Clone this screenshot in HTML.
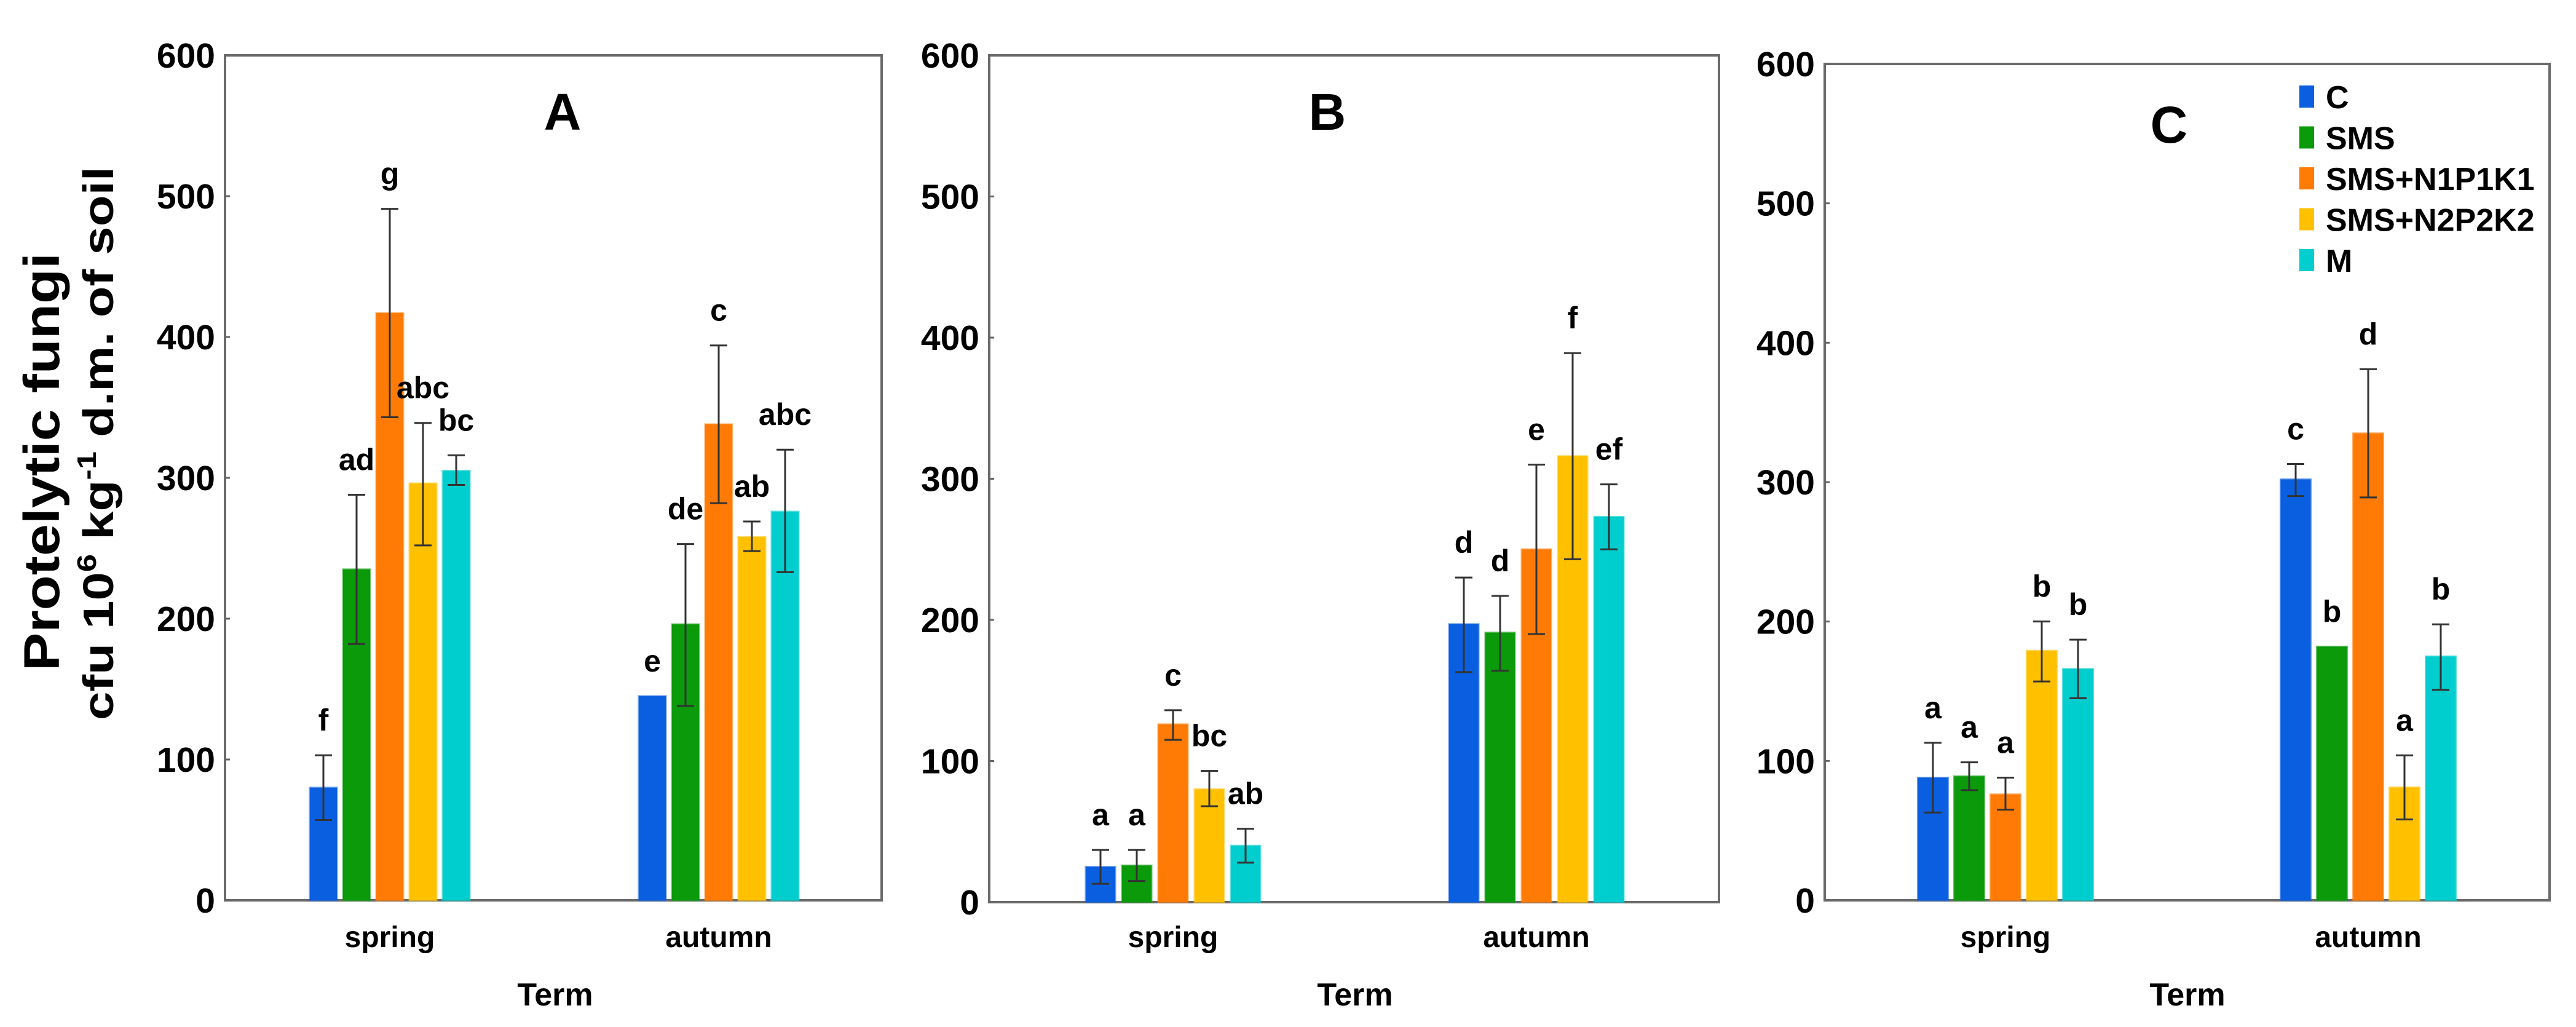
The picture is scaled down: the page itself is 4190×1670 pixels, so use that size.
<!DOCTYPE html>
<html><head><meta charset="utf-8">
<style>
html,body{margin:0;padding:0;background:#fff;}
svg{display:block;font-family:"Liberation Sans",Arial,sans-serif;font-weight:bold;}
</style></head>
<body>
<svg id="chart" width="4190" height="1670" viewBox="0 0 4190 1670" xmlns="http://www.w3.org/2000/svg">
<g>
<text x="96" y="751" transform="rotate(-90 96 751)" text-anchor="middle" font-size="82" textLength="680" lengthAdjust="spacingAndGlyphs">Protelytic fungi</text>
<text x="184" y="721" transform="rotate(-90 184 721)" text-anchor="middle" font-size="70" textLength="900" lengthAdjust="spacingAndGlyphs">cfu 10<tspan dy="-28" font-size="44">6</tspan><tspan dy="28"> kg</tspan><tspan dy="-28" font-size="44">-1</tspan><tspan dy="28"> d.m. of soil</tspan></text>
</g>
</svg>
<script>
const categories = ["spring", "autumn"];
const seriesNames = ["C", "SMS", "SMS+N1P1K1", "SMS+N2P2K2", "M"];
const tickValues = [0, 100, 200, 300, 400, 500, 600];
const panelTitles = ["A", "B", "C"];
const valuesA = [[80, 235, 417, 296, 305], [145, 196, 338, 258, 276]];
const errLowA = [[57, 182, 343, 252, 295], [145, 138, 282, 248, 233]];
const errHighA = [[103, 288, 491, 339, 316], [145, 253, 394, 269, 320]];
const lettersA = [["f", "ad", "g", "abc", "bc"], ["e", "de", "c", "ab", "abc"]];
const valuesB = [[25, 26, 126, 80, 40], [197, 191, 250, 316, 273]];
const errLowB = [[13, 15, 115, 68, 28], [163, 164, 190, 243, 250]];
const errHighB = [[37, 37, 136, 93, 52], [230, 217, 310, 389, 296]];
const lettersB = [["a", "a", "c", "bc", "ab"], ["d", "d", "e", "f", "ef"]];
const valuesC = [[88, 89, 76, 179, 166], [302, 182, 335, 81, 175]];
const errLowC = [[63, 79, 65, 157, 145], [290, 182, 289, 58, 151]];
const errHighC = [[113, 99, 88, 200, 187], [313, 182, 381, 104, 198]];
const lettersC = [["a", "a", "a", "b", "b"], ["c", "b", "d", "a", "b"]];

const colors = ["#0a5fe0", "#0a9a0a", "#ff7b05", "#ffc000", "#00cdcd"];
const NS = "http://www.w3.org/2000/svg";
const svg = document.getElementById("chart");
function mk(tag, attrs, parent) {
  const e = document.createElementNS(NS, tag);
  for (const k in attrs) e.setAttribute(k, attrs[k]);
  (parent || svg).appendChild(e);
  return e;
}
const layouts = [
  {l: 366, r: 1434, t: 90, b: 1464, cx: [634, 1169], pitch: 54, bw: 44, ty: 181},
  {l: 1609, r: 2796, t: 90, b: 1467, cx: [1908, 2499], pitch: 59, bw: 48, ty: 181},
  {l: 2968, r: 4147, t: 104, b: 1464, cx: [3262, 3852], pitch: 59, bw: 49, ty: 202}
];
const panelData = [
  [valuesA, errLowA, errHighA, lettersA],
  [valuesB, errLowB, errHighB, lettersB],
  [valuesC, errLowC, errHighC, lettersC]
];
panelData.forEach((pd, p) => {
  const L = layouts[p];
  const [vals, lo, hi, lets] = pd;
  const y = v => L.b - (v / 600) * (L.b - L.t);
  const g = mk("g", {});
  
  
  const frame = mk("rect", {x: L.l, y: L.t, width: L.r - L.l, height: L.b - L.t, fill: "none", stroke: "#6a6a6a", "stroke-width": 4}, g);
  
  
  tickValues.forEach(tv => {
    const t = mk("text", {x: L.l - 16, y: y(tv) + 20, "text-anchor": "end", "font-size": 57}, g);
    t.textContent = tv;
    
    
    mk("line", {x1: L.l, x2: L.l + 8, y1: y(tv), y2: y(tv), stroke: "#666", "stroke-width": 3}, g);
  });
  const title = mk("text", {x: (p === 0 ? 915 : p === 1 ? 2159 : 3528), y: L.ty + 30, "text-anchor": "middle", "font-size": 84}, g);
  title.textContent = panelTitles[p];
  
  
  categories.forEach((cat, ci) => {
    const cl = mk("text", {x: L.cx[ci], y: 1540, "text-anchor": "middle", "font-size": 48}, g);
    cl.textContent = cat;
    
    
    seriesNames.forEach((sn, si) => {
      const cx = L.cx[ci] + (si - 2) * L.pitch;
      const v = vals[ci][si];
      const bar = mk("rect", {x: cx - L.bw / 2, y: y(v), width: L.bw, height: L.b - y(v), fill: colors[si], stroke: colors[si], "stroke-opacity": 0.6, "stroke-width": 3}, g);
      
      
      const h = hi[ci][si], lw = lo[ci][si];
      if (h > lw) {
        const eb = mk("g", {stroke: "#333", "stroke-width": 3}, g);
        
        
        mk("line", {x1: cx, x2: cx, y1: y(h), y2: y(lw)}, eb);
        mk("line", {x1: cx - 14, x2: cx + 14, y1: y(h), y2: y(h)}, eb);
        mk("line", {x1: cx - 14, x2: cx + 14, y1: y(lw), y2: y(lw)}, eb);
      }
      const lt = mk("text", {x: cx, y: y(Math.max(h, v)) - 40, "text-anchor": "middle", "font-size": 50}, g);
      lt.textContent = lets[ci][si];
      
      
    });
  });
  const xt = mk("text", {x: (p === 0 ? 903 : p === 1 ? 2204 : 3558), y: 1635, "text-anchor": "middle", "font-size": 52}, g);
  xt.textContent = "Term";
  
  
});
const lg = mk("g", {});


seriesNames.forEach((sn, i) => {
  const cy = 157 + i * 66.5;
  const e = mk("g", {}, lg);
  
  
  mk("rect", {x: 3740, y: cy - 18, width: 24, height: 36, fill: colors[i]}, e);
  const t = mk("text", {x: 3783, y: cy + 19, "font-size": 52}, e);
  t.textContent = sn;
});
</script>
</body></html>
